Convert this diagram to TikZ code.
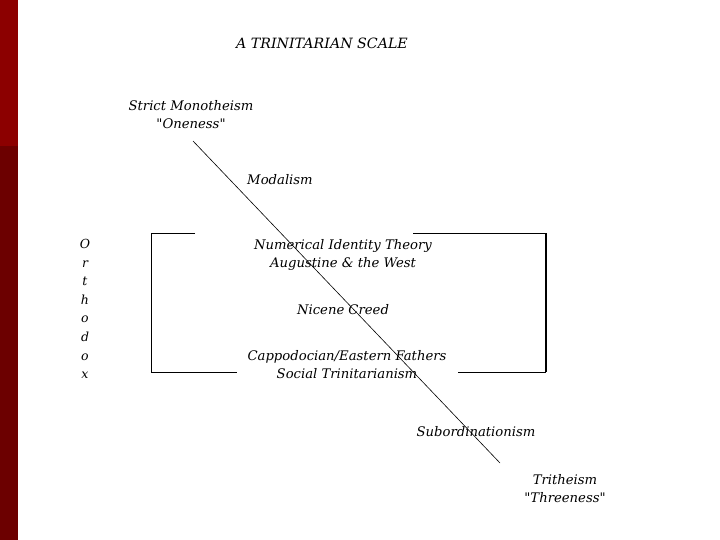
\documentclass[tikz,border=0pt]{standalone}
\usepackage{fontspec}
\setmainfont{DejaVu Serif}
\usepackage{tikz}
\usetikzlibrary{positioning, calc}

\definecolor{barTop}{RGB}{140,0,0}
\definecolor{barLow}{RGB}{108,0,0}

\tikzset{
    label/.style={font=\fontsize{13.2}{18}\selectfont\itshape, inner sep=0pt, align=center},
    frame/.style={line width=1pt, black},
}

\begin{document}
\begin{tikzpicture}[x=1pt, y=-1pt]
        % === OBSZAR / TLO ===
        \useasboundingbox (0,0) rectangle (720,540);
        \fill[white] (0,0) rectangle (720,540);

        % === PASEK Z LEWEJ ===
        \fill[barTop] (0,0) rectangle (18,146);
        \fill[barLow] (0,146) rectangle (18,540);

        % === TYTUL ===
        \node[label, font=\fontsize{14.2}{18}\selectfont\itshape] (title) at (322,43) {A TRINITARIAN SCALE};

        % === SKALA: os ukosna ===
        \coordinate (scaleTop) at (193,141);
        \coordinate (scaleEnd) at (500,463);
        \draw[line width=0.6pt] (scaleTop) -- (scaleEnd);

        % === ETYKIETY NA SKALI ===
        \node[label] (mono) at (191,115) {Strict Monotheism\\\textquotedbl Oneness\textquotedbl};
        \node[label] (modal) at (280,180) {Modalism};
        \node[label] (numid) at (343,255) {Numerical Identity Theory\\Augustine \& the West};
        \node[label] (nicene) at (343,310) {Nicene Creed};
        \node[label] (capp) at (347,365) {Cappodocian/Eastern Fathers\\Social Trinitarianism};
        \node[label] (subord) at (476,432) {Subordinationism};
        \node[label] (trith) at (565,489) {Tritheism\\\textquotedbl Threeness\textquotedbl};

        % === NAWIAS "ORTHODOX" ===
        \draw[frame] (195,233) -- (151,233) -- (151,372) -- (237,372);
        \draw[frame] (413,233) -- (545,233) -- (545,372) -- (458,372);
        \draw[line width=2pt] (545.5,233) -- (545.5,372);

        \node[font=\fontsize{12.5}{18.6}\selectfont\itshape, align=center, inner sep=0pt]
            (ortho) at (85,309) {O\\r\\t\\h\\o\\d\\o\\x};

    \end{tikzpicture}
\end{document}
